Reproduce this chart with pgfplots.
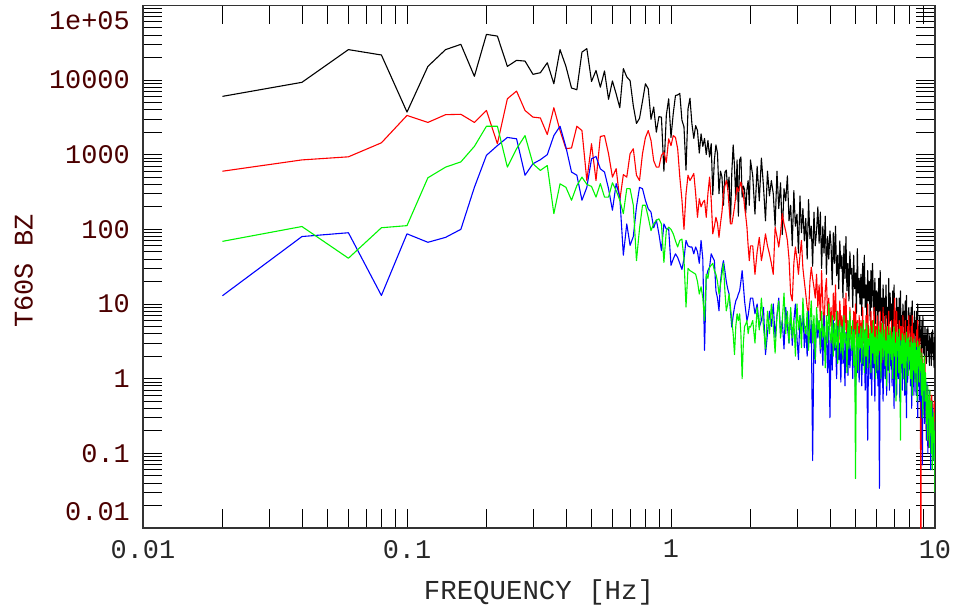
\documentclass[border=0pt]{standalone}
\usepackage{fontspec}
\usepackage{pgfplots}
\usepackage{pgfplotstable}
\pgfplotsset{compat=1.18}
\newfontfamily\pf{Liberation Mono}
\definecolor{maroonlab}{RGB}{75,0,0}
\definecolor{xlab}{RGB}{40,40,40}
\definecolor{lime}{RGB}{0,245,0}
\pgfplotstableread{
f k r b g
0.02 6030 600 12.9 69
0.04 9300 850 80 109
0.06 25500 935 90 41
0.08 21600 1440 13 105
0.10 3720 3350 87 112
0.12 15200 2700 67 490
0.14 25500 3430 78 680
0.16 30000 3470 100 800
0.18 11200 2700 365 1290
0.20 40800 3900 980 2400
0.22 38700 1400 1320 2400
0.24 15200 5600 1700 680
0.26 18300 7100 1630 1200
0.28 17900 3900 530 1800
0.30 11900 3180 755 755
0.32 12500 3100 855 615
0.34 17000 1860 1000 715
0.36 8900 4250 1800 162
0.38 25500 2100 2400 407
0.40 15200 1200 1260 365
0.42 7800 1230 585 245
0.44 7400 2400 530 385
0.46 23600 2100 245 500
0.48 26300 450 365 400
0.50 9550 1400 880 375
0.52 13400 450 945 270
0.54 8000 1750 645 410
0.56 13200 1800 585 270
0.58 5500 1030 350 270
0.60 9700 500 180 420
0.62 6500 650 410 330
0.64 4250 245 270 245
0.66 14200 540 45 162
0.68 11000 500 118 350
0.70 9800 1030 61 350
0.72 4500 1200 80 210
0.74 2620 530 200 38
0.76 3060 450 365 102
0.78 5200 1030 350 210
0.80 8900 1690 245 210
0.82 7640 2100 188 145
0.84 2970 1550 170 96
0.86 4340 830 105 118
0.88 2000 680 134 132
0.90 3230 680 87 138
0.92 3180 980 52 118
0.94 600 1080 118 36
0.96 3350 790 101 96
0.98 5600 1630 101 107
1.00 1700 1320 33 100
1.02 3570 1800 40 87
1.04 6200 1700 47 70
1.06 6300 1200 42 58
1.08 6600 500 35 71
1.10 2900 250 29 74
1.12 2350 100 40 40
1.14 620 300 71 9.1
1.16 4100 530 60 30
1.18 5700 450 58 28
1.20 2600 500 58 27
1.22 1650 560 47 26
1.24 2450 300 58 25
1.26 2100 145 50 20
1.28 1050 257 35 13.6
1.30 1900 200 71 17
1.32 1290 230 40 12
1.34 1650 245 2.4 6
1.36 1000 145 23 25
1.38 1550 300 28 22
1.40 930 500 31 31
1.42 1400 250 47 33
1.44 290 87 42 35
1.46 850 110 38 28
1.48 1350 145 15 25
1.50 1050 120 12 20
1.52 300 78 8.1 13.6
1.54 600 120 20 18
1.56 500 170 30 25
1.58 210 300 38 35
1.60 580 380 28 15
1.62 620 450 20 8.1
1.64 340 365 16 10
1.66 500 200 13.6 13.6
1.68 120 118 8 9
1.70 580 118 4.9 6
1.72 1350 150 7 4
1.74 700 200 9.1 2.1
1.76 250 280 11 5
1.78 850 365 12 7.4
1.80 150 320 13.6 6
1.82 850 365 15 7.4
1.84 930 430 20 4
1.86 270 350 28 1.0
1.88 380 300 18 3
1.90 340 200 11 5
1.92 165 150 8 5.4
1.94 340 107 6 6
1.96 450 60 7 4
1.98 210 38 9 5
2.00 850 60 12 4.9
2.04 520 60 12 6
2.08 160 25 7.4 3
2.12 700 50 10 9
2.16 240 78 4.9 4.5
2.20 900 38 6 12
2.24 380 55 9 5
2.28 130 87 2.1 2.5
2.32 600 60 4 8
2.36 280 47 8 4
2.40 450 35 5 10
2.44 300 25 10 5
2.48 110 107 3.5 2.2
2.52 600 80 7 7
2.56 190 58 12 11
2.60 420 90 4 3.5
2.64 85 162 6 6
2.68 350 118 2.5 14
2.72 240 95 9 4
2.76 520 71 5 8
2.80 130 40 3 3
2.84 210 13.6 8 9
2.88 60 11 2.8 3.5
2.92 330 35 6 6
2.96 110 58 10 2
3.00 160 40 3.5 10
3.04 48 25 1.8 4.5
3.08 280 45 7 7
3.12 90 71 4 2.6
3.16 190 30 9 12
3.20 70 20 2.6 5
3.24 140 13.6 5 4
3.28 40 9 2 8
3.32 250 7.4 8 2.4
3.36 75 20 3 6
3.40 110 31 6 11
3.44 32 22 0.08 3
3.48 170 16.7 4 7
3.52 60 12 1.6 1.8
3.56 95 25 7 9
3.60 200 9 3.5 4.5
3.64 65 18 6 6
3.68 170 6 2.2 2.5
3.72 30 28 4.5 8
3.76 110 10 1.5 3.6
3.80 48 4.5 7 5
3.84 150 15 2.6 1.4
3.88 25 22 3.8 7
3.92 80 7 1.2 3
3.96 40 12 5 10
4.00 95 5 0.3 4
4.04 60 9 4 3
4.08 18 3 1.3 7
4.12 90 14 6 2
4.16 35 6 2.4 5.5
4.20 110 18 3.5 2.6
4.24 24 4 1 8
4.28 45 8 5 1.6
4.32 16 2.6 1.8 4.5
4.36 70 11 3 6
4.40 30 5 0.9 2.2
4.44 45 7 5 5
4.48 12 2.2 1.6 1.8
4.52 60 12 3.4 7
4.56 22 4.5 0.8 3
4.60 80 14 4.2 4
4.64 15 3 2 1.2
4.68 35 6 1.1 6
4.72 11 2 3.8 2.5
4.76 50 9 1.4 8
4.80 25 4 2.6 3.2
4.84 30 5 3.5 2.4
4.88 9 1.6 1 6
4.92 45 8 4.5 1.5
4.96 16 3.5 1.8 4.5
5.00 26 10 0.6 0.046
5.04 7.5 2.5 3 3.2
5.08 55 6 1.2 5.5
5.12 14 1.5 4 1.3
5.16 22 7 0.9 4
5.20 10 3 2.4 2.6
5.24 25 6 3 5
5.28 7 2 0.8 1.6
5.32 35 9 4 3.8
5.36 12 3 1.5 6
5.40 45 4.5 2.6 1.2
5.44 9 1.5 0.7 4.4
5.48 18 7 3.6 2
5.52 6.5 2.5 1.2 5.5
5.56 28 10 0.15 1.4
5.60 11 3.5 2.2 3.4
5.64 20 4 3.2 2.8
5.68 6 1.4 1 5
5.72 28 8 2.4 1.2
5.76 9 2.8 0.6 4
5.80 35 6 3.8 2.2
5.84 13 1.8 1.4 6
5.88 7 9 2 1.6
5.92 22 3 0.5 3.6
5.96 5.5 5 3 1
6.00 15 2 1.2 4.5
6.04 14 7 2.6 3
6.08 4.5 2 0.8 1.3
6.12 22 4.5 3.4 5
6.16 8 1.3 0.034 2.4
6.20 28 8 2.2 4.2
6.24 6 3 0.9 1
6.28 12 5.5 3 3.6
6.32 4.2 1.6 1.3 5.5
6.36 18 9 0.5 1.8
6.40 7 2.6 2.4 3.2
6.44 12 3.5 3 4.5
6.48 4 1.4 1 1.5
6.52 18 7 2.2 3.2
6.56 6.5 2.2 0.6 0.8
6.60 9 5 3.6 5
6.64 3.6 1.3 1.3 2.2
6.68 22 8 2.6 3.8
6.72 5.5 2.8 0.7 1.2
6.76 14 4 3.2 4.8
6.80 6 1.6 1.5 2.6
6.84 10 6 2.4 1.8
6.88 3.5 2 0.8 4
6.92 15 3 3.4 1
6.96 5 1.2 1.2 3.4
7.00 18 7 0.4 5
7.04 4.2 12 2.8 2
7.08 8 4.5 1 3
7.12 3.2 1.5 3 0.5
7.16 12 8 0.6 4.2
7.20 5.5 2.8 2 2.4
7.24 9 3.5 3 3.6
7.28 3 1.3 1 1.2
7.32 12 6 2.2 4.6
7.36 4.5 2 0.5 2
7.40 15 5 3.2 0.15
7.44 3.8 3 1.4 3.2
7.48 7 5 2.5 1.6
7.52 2.9 1.2 0.7 4
7.56 10 7 2.8 2.5
7.60 5 2.4 1.1 1
7.64 8 4 2.2 3.8
7.68 2.8 1.2 0.6 1.4
7.72 11 6 3 3
7.76 4 2 1.2 0.7
7.80 13 3 0.3 4.2
7.84 3.2 1 2.5 2
7.88 6 5 0.9 3.4
7.92 2.6 1.8 2.8 1.1
7.96 9 7 1.3 3.6
8.00 4.5 2.2 2 1.8
8.04 7 3 2.6 2.6
8.08 2.5 1 0.8 1
8.12 9 5 2 3.6
8.16 3.6 1.6 0.4 1.6
8.20 11 7 3 0.6
8.24 3 2 1.1 3
8.28 5.5 0.8 2.2 1.3
8.32 2.3 4 0.6 3.4
8.36 8 1.4 2.5 2
8.40 4 3 1 0.9
8.44 6 2.5 2 3
8.48 2.2 0.9 0.6 1.2
8.52 8 4.5 2.6 2.4
8.56 3.2 1.4 1 0.5
8.60 10 6 0.3 3.2
8.64 2.7 1.8 2.2 1.5
8.68 5 3 0.8 2.6
8.72 2.1 0.8 1.8 0.9
8.76 7 3.5 0.5 2.8
8.80 3.6 1.2 1.5 1.4
8.84 4.5 0.004 1.2 1.8
8.88 1.8 0.6 0.3 0.6
8.92 6 2.5 1.6 2.2
8.96 2.6 0.5 0.07 0.9
9.00 7 1.8 1 0.3
9.04 2.2 0.4 0.4 1.6
9.08 3.8 1.2 1.4 0.7
9.12 1.7 0.3 0.25 2
9.16 5 2 0.9 0.5
9.20 2.8 0.6 0.5 1.2
9.24 3.8 0.5 0.6 0.9
9.28 1.6 0.15 0.15 0.25
9.32 4.6 0.8 0.9 0.6
9.36 2.4 0.3 0.3 0.15
9.40 5 0.6 0.1 0.8
9.44 2 0.12 0.5 0.3
9.48 3.2 0.4 0.2 0.5
9.52 1.5 0.2 0.7 0.12
9.56 4 0.7 0.12 0.7
9.60 2.6 0.25 0.4 0.2
9.64 3.4 0.4 0.06 0.4
9.68 1.5 0.1 0.3 0.1
9.72 4.2 0.6 0.5 0.5
9.76 2.2 0.2 0.12 0.06
9.80 4.5 0.5 0.4 0.3
9.84 1.8 0.08 0.08 0.15
9.88 3 0.3 0.3 0.35
9.92 1.4 0.15 0.15 0.08
9.96 3.6 0.5 0.2 0.2
10.00 2.4 0.2 0.1 0.03
}\data
\begin{document}
\begin{tikzpicture}
\path[use as bounding box] (-143bp,-81bp) rectangle (813bp,528bp);
\begin{axis}[
  at={(0,0)}, anchor=south west,
  scale only axis, width=792bp, height=522.7bp,
  xmode=log, ymode=log,
  xmin=0.01, xmax=10, ymin=0.01, ymax=1e5,
  xtick={0.01,0.1,1,10}, xticklabels={0.01,0.1,1,10},
  ytick={0.01,0.1,1,10,100,1000,10000,100000},
  yticklabels={{\raisebox{7.5bp}[0pt][0pt]{0.01}},0.1,1,10,100,1000,10000,{\raisebox{-24.5bp}[0pt][0pt]{1e+05}}},
  tick align=inside, major tick length=19bp, minor tick length=19bp,
  tick style={black, line width=0.8bp},
  axis line style={black!80, line width=1.2bp},
  xticklabel style={font=\pf\fontsize{27}{27}\selectfont, text=xlab, anchor=north, inner sep=0pt, yshift=-12bp},
  yticklabel style={font=\pf\fontsize{27}{27}\selectfont, text=maroonlab, anchor=east, inner sep=0pt, xshift=-13bp},
  xlabel={FREQUENCY [Hz]}, ylabel={T60S BZ},
  every axis x label/.style={at={(axis description cs:0.5,0)}, anchor=north, inner sep=0pt, yshift=-51bp, font=\pf\fontsize{27.5}{27.5}\selectfont, text=xlab},
  every axis y label/.style={at={(axis description cs:-0.1389,0.4917)}, rotate=90, anchor=south, inner sep=0pt, font=\pf\fontsize{27}{27}\selectfont, text=maroonlab},
]
\addplot[black, line width=1.1bp, mark=none, line join=round] table[x=f,y=k]{\data};
\addplot[red, line width=1.1bp, mark=none, line join=round] table[x=f,y=r]{\data};
\addplot[blue, line width=1.1bp, mark=none, line join=round] table[x=f,y=b]{\data};
\addplot[lime, line width=1.1bp, mark=none, line join=round] table[x=f,y=g]{\data};
\end{axis}
\end{tikzpicture}
\end{document}
